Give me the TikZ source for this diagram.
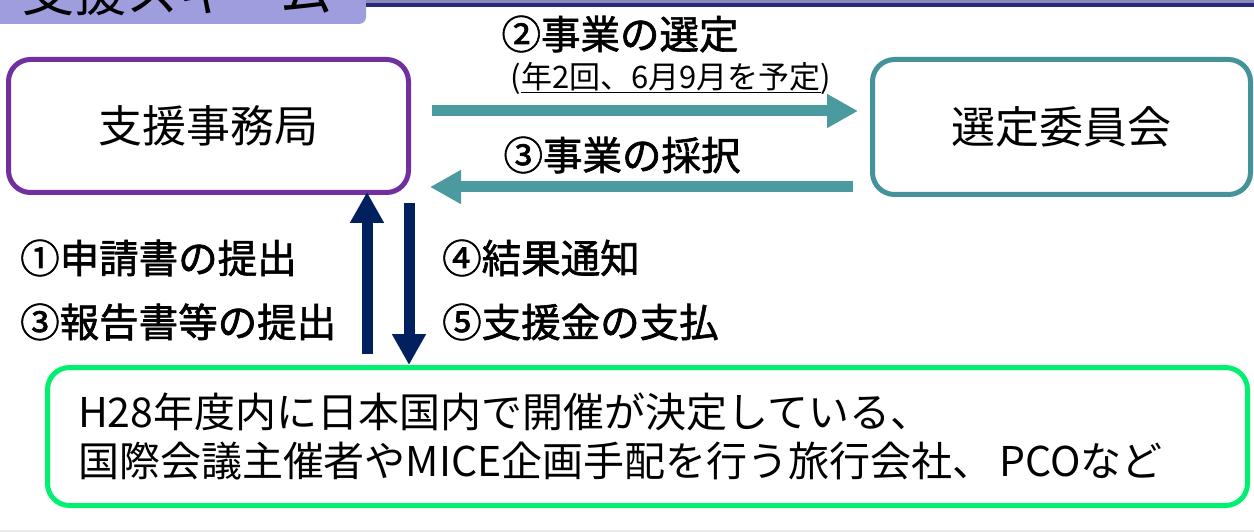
\documentclass[tikz,border=0pt]{standalone}
\usepackage{fontspec}
\newfontfamily\cjk{Noto Sans CJK JP}
\newfontfamily\cjkm{Noto Sans CJK JP}[FakeBold=1.6]
\usetikzlibrary{arrows.meta}
\definecolor{boxpurple}{HTML}{7030A0}
\definecolor{boxteal}{HTML}{44939A}
\definecolor{arrteal}{HTML}{4A9AA0}
\definecolor{arrnavy}{HTML}{002060}
\definecolor{boxgreen}{HTML}{00F070}
\definecolor{tabfill}{HTML}{9E9EDE}
\definecolor{rulenavy}{HTML}{2A2A7A}
\definecolor{rulelight}{HTML}{8A8AB8}
\tikzset{
  entity/.style={draw, line width=5pt, rounded corners=22pt, fill=white, font=\cjk\fontsize{44}{50}\selectfont, inner sep=0pt},
  tealarrow/.style={draw=arrteal, line width=11pt, -{Triangle[width=32pt,length=31pt]}},
  navyarrow/.style={draw=arrnavy, line width=11pt, -{Triangle[width=32pt,length=31pt]}},
  steplabel/.style={font=\cjkm\fontsize{39.5}{44}\selectfont, inner sep=0pt},
}
\begin{document}
\begin{tikzpicture}[x=1pt,y=-1pt]
\useasboundingbox (0,0) rectangle (1254,532);
\clip (0,0) rectangle (1254,532);
% header tab and rule
\fill[tabfill, rounded corners=7pt] (-10,-30) rectangle (366,24);
\node[anchor=base west, inner sep=0pt, font=\cjk\fontsize{52}{56}\selectfont] (title) at (22,12) {支援スキーム};
\draw[rulelight, line width=3pt] (366,1.5) -- (1254,1.5);
\draw[rulenavy, line width=4pt] (366,5) -- (1254,5);
\draw[black!8, line width=2pt] (0,531) -- (1254,531);
% boxes
\node[entity, draw=boxpurple, minimum width=400pt, minimum height=133pt] (office) at (208.5,126) {支援事務局};
\node[entity, draw=boxteal, minimum width=378pt, minimum height=135pt] (committee) at (1061.5,127) {選定委員会};
\node[entity, draw=boxgreen, minimum width=1200pt, minimum height=138pt, text width=1139pt, align=left, inner xsep=30.5pt, font=\cjk\fontsize{41}{49}\selectfont] (applicant) at (647.5,436.5) {H28年度内に日本国内で開催が決定している、\\国際会議主催者やMICE企画手配を行う旅行会社、\hspace{6pt}PCOなど};
% connectors
\draw[tealarrow, shorten <=21pt, shorten >=12pt] ([yshift=15pt]office.east) -- ([yshift=16pt]committee.west);
\draw[tealarrow, shorten <=17pt, shorten >=19pt] ([yshift=-60pt]committee.west) -- ([yshift=-61pt]office.east);
\draw[navyarrow, shorten <=11pt, shorten >=-3pt] ([xshift=-280.5pt]applicant.north) -- ([xshift=158.5pt]office.south);
\draw[navyarrow, shorten <=8pt] ([xshift=200.5pt]office.south) -- ([xshift=-238.5pt]applicant.north);
% labels
\node[steplabel] (l2) at (620,34) {②事業の選定};
\node[inner sep=0pt, font=\cjk\fontsize{31}{36}\selectfont] (l2b) at (671,78) {(\underline{年2回、6月9月を予定})};
\node[steplabel] (l3) at (622,155) {③事業の採択};
\node[steplabel, anchor=west] (l1) at (20,258) {①申請書の提出};
\node[steplabel, anchor=west] (l3b) at (20,322) {③報告書等の提出};
\node[steplabel, anchor=west] (l4) at (442,258) {④結果通知};
\node[steplabel, anchor=west] (l5) at (442,322) {⑤支援金の支払};
\end{tikzpicture}
\end{document}
